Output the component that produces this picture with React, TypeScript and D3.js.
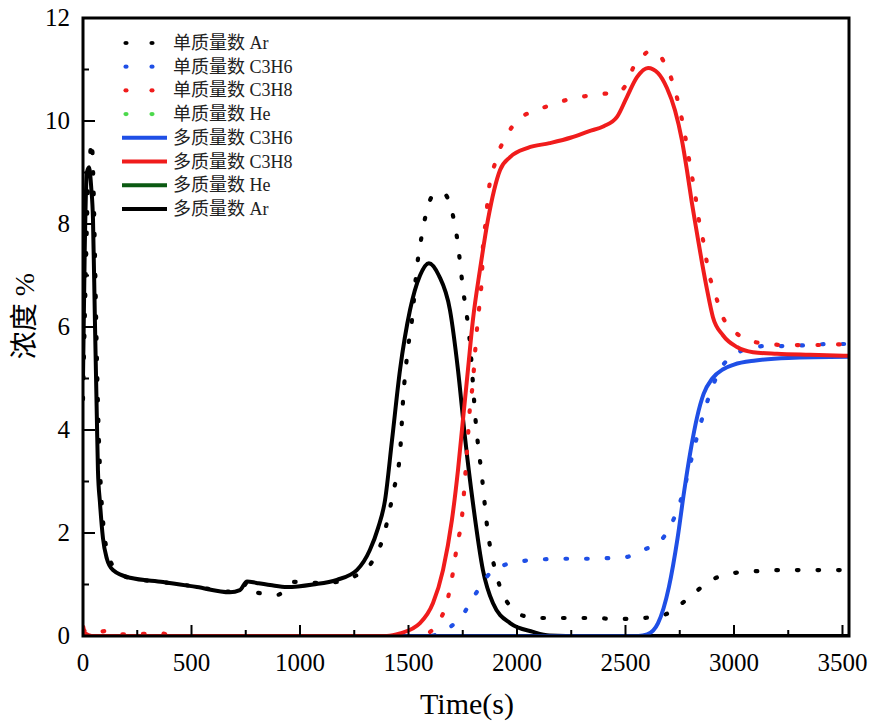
import React, { useEffect, useRef } from 'react';
import * as d3 from 'd3';

// [time (s), concentration %]
const arSingle: [number, number][] = [
  [0, 4.6], [10, 6.5], [22, 8.6], [32, 9.3], [40, 9.6], [48, 8.8], [56, 7.2], [64, 5.4], [72, 4.0],
  [82, 2.9], [95, 2.1], [115, 1.6], [150, 1.3], [220, 1.12], [360, 1.05], [520, 0.96], [680, 0.86],
  [725, 0.88], [760, 1.05], [785, 0.86], [840, 0.82], [898, 0.8], [968, 1.05], [1060, 1.03],
  [1170, 1.05], [1253, 1.16], [1332, 1.44], [1382, 1.9], [1430, 2.8], [1461, 3.55], [1475, 4.58],
  [1498, 5.6], [1516, 6.14], [1539, 7.17], [1558, 7.7], [1581, 8.2], [1618, 8.58], [1659, 8.6],
  [1700, 8.25], [1723, 7.75], [1751, 6.75], [1783, 5.7], [1811, 4.1], [1839, 3.07], [1866, 2.0],
  [1889, 1.47], [1922, 0.95], [1982, 0.52], [2040, 0.38], [2097, 0.35], [2221, 0.35], [2346, 0.35],
  [2465, 0.33], [2581, 0.35], [2650, 0.38], [2700, 0.45], [2750, 0.6], [2797, 0.76], [2889, 1.07],
  [2995, 1.22], [3106, 1.26], [3212, 1.28], [3318, 1.28], [3429, 1.28], [3530, 1.28],
];
const c3h6Single: [number, number][] = [
  [0, 0], [1600, 0], [1654, 0.08], [1700, 0.2], [1746, 0.39], [1811, 0.83], [1880, 1.24],
  [1930, 1.36], [1977, 1.42], [2092, 1.48], [2212, 1.5], [2309, 1.5], [2406, 1.51], [2498, 1.53],
  [2581, 1.67], [2664, 1.86], [2724, 2.29], [2765, 2.78], [2797, 3.32], [2829, 3.86], [2862, 4.35],
  [2899, 4.82], [2940, 5.2], [2986, 5.42], [3041, 5.55], [3097, 5.61], [3143, 5.63], [3226, 5.63],
  [3456, 5.67], [3530, 5.67],
];
const c3h8Single: [number, number][] = [
  [0, 0.12], [40, 0.05], [110, 0.1], [150, 0.03], [360, 0.05], [420, 0], [1560, 0], [1600, 0.08],
  [1636, 0.25], [1682, 0.74], [1705, 1.24], [1724, 1.77], [1746, 2.29], [1756, 2.8], [1774, 3.87],
  [1783, 4.43], [1797, 4.93], [1806, 5.46], [1816, 5.98], [1829, 6.52], [1839, 7.05], [1843, 7.55],
  [1857, 8.08], [1866, 8.52], [1900, 9.2], [1950, 9.7], [2000, 10.0], [2080, 10.2], [2150, 10.3],
  [2212, 10.39], [2313, 10.48], [2429, 10.54], [2461, 10.55], [2507, 10.74], [2535, 11.03],
  [2576, 11.24], [2604, 11.34], [2645, 11.32], [2677, 11.15], [2700, 10.95], [2728, 10.6],
  [2751, 10.21], [2774, 9.73], [2797, 9.15], [2820, 8.6], [2839, 8.06], [2862, 7.59], [2880, 7.13],
  [2912, 6.66], [2949, 6.19], [3005, 5.9], [3065, 5.75], [3120, 5.69], [3244, 5.65], [3364, 5.65],
  [3530, 5.67],
];
const heSingle: [number, number][] = [[0, 0], [3530, 0]];

const c3h6Multi: [number, number][] = [
  [0, 0], [2560, 0], [2600, 0.03], [2650, 0.25], [2700, 0.95], [2740, 1.9], [2770, 2.8],
  [2800, 3.6], [2830, 4.25], [2860, 4.7], [2900, 5.0], [2950, 5.18], [3000, 5.27], [3100, 5.35],
  [3250, 5.4], [3530, 5.42],
];
const c3h8Multi: [number, number][] = [
  [0, 0.2], [10, 0.05], [40, 0], [1400, 0], [1461, 0.05], [1553, 0.25], [1613, 0.64], [1659, 1.28],
  [1700, 2.25], [1728, 3.22], [1751, 4.2], [1774, 5.17], [1797, 6.14], [1829, 7.1], [1866, 8.08],
  [1922, 9.05], [1968, 9.3], [2050, 9.48], [2150, 9.57], [2250, 9.68], [2330, 9.8], [2400, 9.9],
  [2461, 10.08], [2507, 10.47], [2553, 10.85], [2604, 11.03], [2650, 10.93], [2691, 10.64],
  [2728, 10.21], [2760, 9.63], [2783, 9.05], [2806, 8.41], [2829, 7.83], [2853, 7.24], [2876, 6.72],
  [2903, 6.19], [2949, 5.84], [3014, 5.61], [3088, 5.51], [3198, 5.48], [3350, 5.46], [3530, 5.44],
];
const heMulti: [number, number][] = [[0, 0], [3530, 0]];
const arMulti: [number, number][] = [
  [0, 5.0], [8, 7.5], [18, 9.0], [28, 9.1], [38, 8.7], [46, 8.1], [55, 6.1], [64, 4.2], [69, 3.2],
  [78, 2.6], [92, 1.9], [110, 1.5], [138, 1.28], [217, 1.13], [369, 1.05], [525, 0.95], [677, 0.85],
  [723, 0.89], [756, 1.06], [800, 1.03], [862, 0.99], [940, 0.95], [1060, 1.0], [1170, 1.09],
  [1262, 1.28], [1322, 1.67], [1360, 2.1], [1392, 2.64], [1424, 3.8], [1461, 5.17], [1507, 6.33],
  [1553, 7.0], [1594, 7.24], [1640, 7.0], [1691, 6.33], [1728, 5.17], [1760, 3.87], [1797, 2.58],
  [1843, 1.28], [1889, 0.64], [1968, 0.25], [2074, 0.08], [2150, 0.01], [2300, 0], [3530, 0],
];

const xTicks = [0, 500, 1000, 1500, 2000, 2500, 3000, 3500];
const yTicks = [0, 2, 4, 6, 8, 10, 12];

type Series = { name: string; data: [number, number][]; color: string; dotted: boolean };

// drawing order (He first, so it stays hidden under the others)
const series: Series[] = [
  { name: '单质量数 He', data: heSingle, color: '#4cd94c', dotted: true },
  { name: '多质量数 He', data: heMulti, color: '#0b5a12', dotted: false },
  { name: '多质量数 Ar', data: arMulti, color: '#000000', dotted: false },
  { name: '单质量数 Ar', data: arSingle, color: '#000000', dotted: true },
  { name: '单质量数 C3H6', data: c3h6Single, color: '#1f4fe6', dotted: true },
  { name: '单质量数 C3H8', data: c3h8Single, color: '#f01c1c', dotted: true },
  { name: '多质量数 C3H6', data: c3h6Multi, color: '#1f4fe6', dotted: false },
  { name: '多质量数 C3H8', data: c3h8Multi, color: '#f01c1c', dotted: false },
];
const legendOrder = [
  '单质量数 Ar', '单质量数 C3H6', '单质量数 C3H8', '单质量数 He',
  '多质量数 C3H6', '多质量数 C3H8', '多质量数 He', '多质量数 Ar',
];

const FONT = "'Liberation Serif', 'Times New Roman', 'Noto Sans CJK SC', serif";

export default function App() {
  const ref = useRef<SVGSVGElement>(null);

  useEffect(() => {
    const svg = d3.select(ref.current);
    svg.selectAll('*').remove();

    const x = d3.scaleLinear().domain([0, 3530]).range([83, 849]);
    const y = d3.scaleLinear().domain([0, 12]).range([636, 18]);

    const line = d3.line<[number, number]>()
      .x(d => x(d[0]))
      .y(d => y(d[1]))
      .curve(d3.curveMonotoneX);

    const plot = svg.append('g');
    plot.append('defs').append('clipPath').attr('id', 'clip')
      .append('rect').attr('x', 83).attr('y', 18).attr('width', 766).attr('height', 618);

    const lines = plot.append('g').attr('clip-path', 'url(#clip)');
    series.forEach(s => {
      lines.append('path')
        .attr('d', line(s.data))
        .attr('fill', 'none')
        .attr('stroke', s.color)
        .attr('stroke-width', s.dotted ? 4.2 : 4)
        .attr('stroke-linecap', s.dotted ? 'round' : 'butt')
        .attr('stroke-linejoin', 'round')
        .attr('stroke-dasharray', s.dotted ? '1.6 19' : null);
    });

    // frame
    svg.append('rect')
      .attr('x', 83).attr('y', 18).attr('width', 766).attr('height', 618)
      .attr('fill', 'none').attr('stroke', '#000').attr('stroke-width', 3);

    // ticks
    const ax = svg.append('g').attr('stroke', '#000').attr('stroke-width', 2);
    d3.range(0, 3501, 250).forEach(t => {
      const major = t % 500 === 0;
      ax.append('line').attr('x1', x(t)).attr('x2', x(t))
        .attr('y1', 636).attr('y2', 636 - (major ? 11 : 6));
    });
    d3.range(0, 12.01, 1).forEach(v => {
      const major = v % 2 === 0;
      ax.append('line').attr('y1', y(v)).attr('y2', y(v))
        .attr('x1', 83).attr('x2', 83 + (major ? 12 : 6));
    });

    svg.selectAll('text.xt').data(xTicks).join('text')
      .attr('class', 'xt')
      .attr('x', d => x(d)).attr('y', 671)
      .attr('text-anchor', 'middle')
      .attr('font-family', FONT).attr('font-size', 25)
      .text(d => d);

    svg.selectAll('text.yt').data(yTicks).join('text')
      .attr('class', 'yt')
      .attr('x', 70).attr('y', d => y(d) + 8)
      .attr('text-anchor', 'end')
      .attr('font-family', FONT).attr('font-size', 25)
      .text(d => d);

    svg.append('text')
      .attr('x', 467).attr('y', 714)
      .attr('text-anchor', 'middle')
      .attr('font-family', FONT).attr('font-size', 30)
      .text('Time(s)');

    svg.append('text')
      .attr('transform', 'translate(34,316) rotate(-90)')
      .attr('text-anchor', 'middle')
      .attr('font-family', FONT).attr('font-size', 28)
      .text('浓度 %');

    // legend
    const lg = svg.append('g');
    legendOrder.forEach((name, i) => {
      const s = series.find(d => d.name === name)!;
      const ly = 43 + i * 23.7;
      if (s.dotted) {
        [126, 152].forEach(cx => {
          lg.append('ellipse').attr('cx', cx).attr('cy', ly).attr('rx', 2.6).attr('ry', 2.1)
            .attr('fill', s.color);
        });
      } else {
        lg.append('line').attr('x1', 122).attr('x2', 167).attr('y1', ly).attr('y2', ly)
          .attr('stroke', s.color).attr('stroke-width', 4);
      }
      lg.append('text')
        .attr('x', 173).attr('y', ly + 6)
        .attr('font-family', FONT).attr('font-size', 18).attr('fill', '#222')
        .text(name);
    });
  }, []);

  return (
    <svg ref={ref} width={877} height={726}
      style={{ position: 'absolute', left: 0, top: 0, background: '#fff' }} />
  );
}
